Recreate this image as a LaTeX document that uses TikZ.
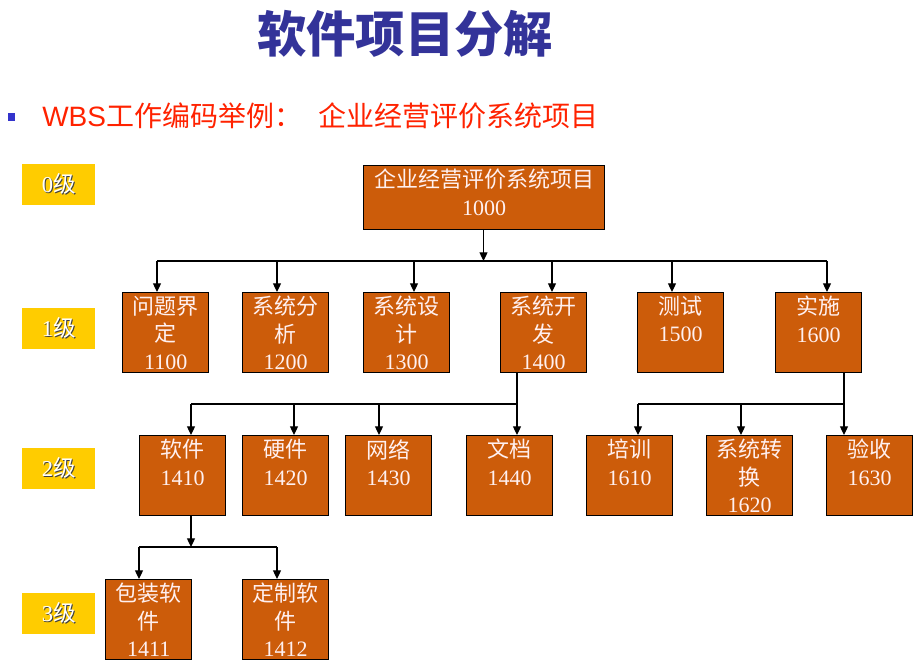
\documentclass[tikz,border=0pt]{standalone}
\usepackage{fontspec}
\setmainfont{Liberation Serif}
\newfontfamily\cjk{Noto Sans CJK SC}
\newfontfamily\sansf{Liberation Sans}
\usetikzlibrary{arrows.meta}
\definecolor{boxfill}{HTML}{CC5C0A}
\definecolor{lvlfill}{HTML}{FFCC00}
\definecolor{ttlcol}{HTML}{333399}
\definecolor{subcol}{HTML}{FF2200}
\definecolor{btxt}{HTML}{FFF0F0}
\definecolor{bulletcol}{HTML}{3333CC}
\newcommand\shd[1]{\makebox[0pt][l]{\kern0.9pt\raisebox{-0.9pt}{\color{black!75}#1}}#1}
\begin{document}
\begin{tikzpicture}[x=0.75pt,y=-0.75pt,
  wbs/.style={draw=black, fill=boxfill, line width=1.1pt, minimum width=64.5pt, minimum height=60pt, inner sep=0pt, anchor=north west},
  lbl/.style={anchor=north, align=center, text=btxt, font=\fontsize{16.5}{20.5}\selectfont, inner sep=3pt},
  lvl/.style={fill=lvlfill, minimum width=54.75pt, minimum height=30.75pt, inner sep=0pt, anchor=north west, text=white, font=\fontsize{17}{20}\selectfont},
  ln/.style={draw=black, line width=0.9pt},
  arr/.style={ln, -{Triangle[length=6.5pt,width=6pt]}}]
\useasboundingbox (0,0) rectangle (922,665);

% title
\node[text=ttlcol, font=\cjk\bfseries\fontsize{37}{40}\selectfont] (title) at (405,34) {软件项目分解};
\node[fill=bulletcol, minimum size=5.5pt, inner sep=0pt] (bullet) at (11.5,117) {};
\node[anchor=west, text=subcol, font=\fontsize{21}{24}\selectfont, inner sep=0pt] (sub1) at (42,116) {{\sansf WBS}{\cjk 工作编码举例：}};
\node[anchor=west, text=subcol, font=\cjk\fontsize{21}{24}\selectfont, inner sep=0pt] (sub2) at (318,116) {企业经营评价系统项目};

% level labels
\node[lvl] (l0) at (22,164) {\shd{0}\shd{\cjk 级}};
\node[lvl] (l1) at (22,308) {\shd{1}\shd{\cjk 级}};
\node[lvl] (l2) at (22,448) {\shd{2}\shd{\cjk 级}};
\node[lvl] (l3) at (22,593) {\shd{3}\shd{\cjk 级}};

% level 0
\node[wbs, minimum width=180.75pt, minimum height=48pt, label={[lbl]north:{{\cjk 企业经营评价系统项目}\\1000}}] (n1000) at (363,165) {};

% level 1
\node[wbs, label={[lbl]north:{{\cjk 问题界}\\{\cjk 定}\\1100}}] (n1100) at (122,292) {};
\node[wbs, label={[lbl]north:{{\cjk 系统分}\\{\cjk 析}\\1200}}] (n1200) at (242,292) {};
\node[wbs, label={[lbl]north:{{\cjk 系统设}\\{\cjk 计}\\1300}}] (n1300) at (363,292) {};
\node[wbs, label={[lbl]north:{{\cjk 系统开}\\{\cjk 发}\\1400}}] (n1400) at (500,292) {};
\node[wbs, label={[lbl]north:{{\cjk 测试}\\1500}}] (n1500) at (637,292) {};
\node[wbs, label={[lbl]north:{{\cjk 实施}\\1600}}] (n1600) at (775,292) {};

% level 2
\node[wbs, label={[lbl]north:{{\cjk 软件}\\1410}}] (n1410) at (139,435) {};
\node[wbs, label={[lbl]north:{{\cjk 硬件}\\1420}}] (n1420) at (242,435) {};
\node[wbs, label={[lbl]north:{{\cjk 网络}\\1430}}] (n1430) at (345,435) {};
\node[wbs, label={[lbl]north:{{\cjk 文档}\\1440}}] (n1440) at (466,435) {};
\node[wbs, label={[lbl]north:{{\cjk 培训}\\1610}}] (n1610) at (586,435) {};
\node[wbs, label={[lbl]north:{{\cjk 系统转}\\{\cjk 换}\\1620}}] (n1620) at (706,435) {};
\node[wbs, label={[lbl]north:{{\cjk 验收}\\1630}}] (n1630) at (826,435) {};

% level 3
\node[wbs, label={[lbl]north:{{\cjk 包装软}\\{\cjk 件}\\1411}}] (n1411) at (105,579) {};
\node[wbs, label={[lbl]north:{{\cjk 定制软}\\{\cjk 件}\\1412}}] (n1412) at (242,579) {};

% connectors level 0 -> 1
\coordinate (b0) at (483.5,261);
\coordinate (a1100) at (157,261);
\coordinate (a1200) at (277,261);
\coordinate (a1300) at (414,261);
\coordinate (a1400) at (552,261);
\coordinate (a1500) at (672,261);
\coordinate (a1600) at (827,261);
\draw[arr] (b0 |- n1000.south) -- (b0);
\draw[ln] (a1100) -- (a1600);
\foreach \k in {1100,1200,1300,1400,1500,1600}
  \draw[arr] (a\k) -- (a\k |- n\k.north);

% level 1 -> 2 (1400)
\coordinate (a1410) at (191,404);
\coordinate (a1420) at (294,404);
\coordinate (a1430) at (379,404);
\coordinate (a1440) at (517,404);
\draw[ln] (a1410) -- (a1440);
\draw[arr] (a1440 |- n1400.south) -- (a1440 |- n1440.north);
\foreach \k in {1410,1420,1430}
  \draw[arr] (a\k) -- (a\k |- n\k.north);

% level 1 -> 2 (1600)
\coordinate (a1610) at (638,404);
\coordinate (a1620) at (741,404);
\coordinate (a1630) at (844,404);
\draw[ln] (a1610) -- (a1630);
\draw[arr] (a1630 |- n1600.south) -- (a1630 |- n1630.north);
\foreach \k in {1610,1620}
  \draw[arr] (a\k) -- (a\k |- n\k.north);

% level 2 -> 3
\coordinate (b3) at (191,547);
\coordinate (a1411) at (139,547);
\coordinate (a1412) at (277,547);
\draw[arr] (b3 |- n1410.south) -- (b3);
\draw[ln] (a1411) -- (a1412);
\foreach \k in {1411,1412}
  \draw[arr] (a\k) -- (a\k |- n\k.north);
\end{tikzpicture}
\end{document}
